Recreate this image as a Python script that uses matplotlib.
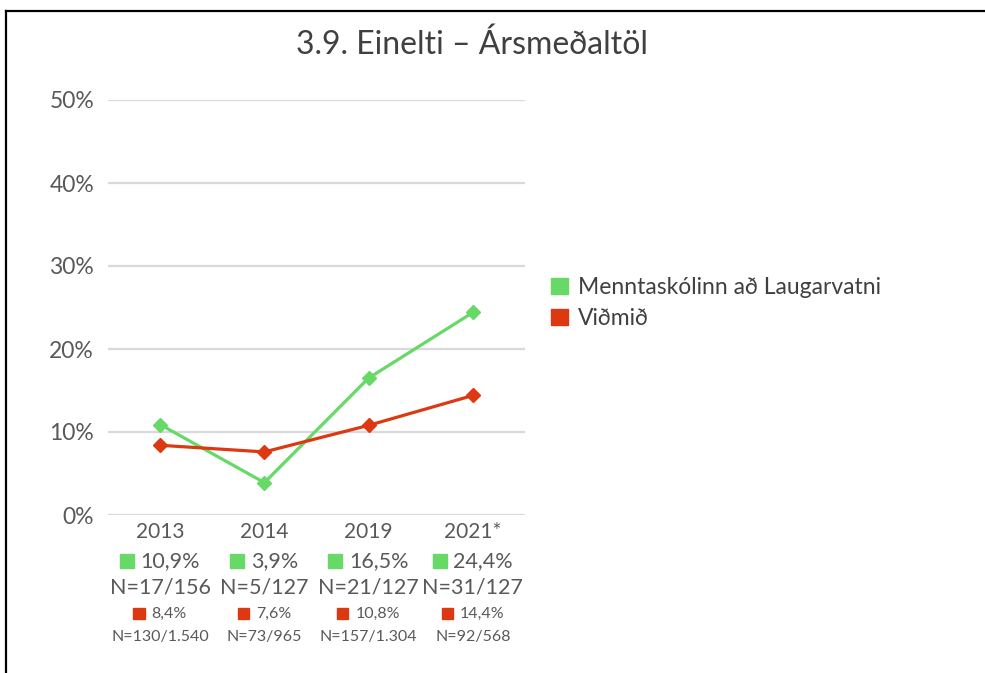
"""Line chart: bullying yearly averages, school vs. benchmark."""

import matplotlib

matplotlib.use("Agg")
import matplotlib.pyplot as plt
from matplotlib.lines import Line2D
from matplotlib.offsetbox import AnnotationBbox, DrawingArea, HPacker, TextArea
from matplotlib.patches import Patch, Rectangle


years = ["2013", "2014", "2019", "2021*"]
school = [10.9, 3.9, 16.5, 24.4]
benchmark = [8.4, 7.6, 10.8, 14.4]
school_n = ["N=17/156", "N=5/127", "N=21/127", "N=31/127"]
benchmark_n = ["N=130/1.540", "N=73/965", "N=157/1.304", "N=92/568"]
school_label = "Menntaskólinn að Laugarvatni"
benchmark_label = "Viðmið"
title = "3.9. Einelti – Ársmeðaltöl"

plt.rcParams["font.family"] = ["Lato", "DejaVu Sans"]
green, red = "#66d966", "#dc3912"
tick_grey, text_dark = "#595959", "#404040"

W, H = 985, 673
fig = plt.figure(figsize=(W / 100, H / 100), dpi=100)
ax = fig.add_axes((108 / W, 1 - 515 / H, (525 - 108) / W, (515 - 100) / H))

x = list(range(len(years)))
ax.plot(x, school, color=green, lw=2.3, marker="D", ms=7.5, zorder=3)
ax.plot(x, benchmark, color=red, lw=2.3, marker="D", ms=7.5, zorder=3)

ax.set_xlim(-0.5, len(years) - 0.5)
ax.set_ylim(0, 50)
ax.set_yticks(range(0, 51, 10))
ax.set_yticklabels([f"{v}%" for v in range(0, 51, 10)], fontsize=16.5, color=tick_grey)
ax.set_xticks([])
ax.tick_params(axis="y", length=0, pad=10)
ax.grid(axis="y", color="#d9d9d9", lw=1.6)
ax.set_axisbelow(True)
for side in ax.spines.values():
    side.set_visible(False)

# category labels with value rows beneath
for i, year in enumerate(years):
    ax.annotate(year, xy=(i, 0), xycoords=("data", "axes fraction"), xytext=(0, -12.5),
                textcoords="offset points", ha="center", va="center", fontsize=15, color=tick_grey)
    for col, val, n, size, sq, dy, dyn in (
        (green, school[i], school_n[i], 15.5, 10, -33, -52.5),
        (red, benchmark[i], benchmark_n[i], 11.5, 8, -71, -88),
    ):
        box = DrawingArea(sq, sq)
        box.add_artist(Rectangle((0, 0), sq, sq, color=col))
        txt = TextArea(f"{val:.1f}%".replace(".", ","),
                       textprops=dict(fontsize=size, color=tick_grey))
        row = HPacker(children=[box, txt], align="center", pad=0, sep=5)
        ax.add_artist(AnnotationBbox(row, (i, 0), xycoords=("data", "axes fraction"),
                                     xybox=(0, dy), boxcoords="offset points",
                                     frameon=False, box_alignment=(0.5, 0.5), pad=0,
                                     annotation_clip=False))
        ax.annotate(n, xy=(i, 0), xycoords=("data", "axes fraction"), xytext=(0, dyn),
                    textcoords="offset points", ha="center", va="center",
                    fontsize=size, color=tick_grey)

handles = [Patch(color=green, label=school_label), Patch(color=red, label=benchmark_label)]
fig.legend(handles=handles, loc="center left", bbox_to_anchor=(551 / W, 1 - 303 / H),
           frameon=False, fontsize=16.5, labelcolor=text_dark, handlelength=0.72,
           handleheight=0.72, handletextpad=0.45, labelspacing=0.45, borderpad=0,
           borderaxespad=0)

fig.text(472 / W, 1 - 45 / H, title, ha="center", va="center", fontsize=23, color=text_dark)

# frame lines of the cropped screenshot
fig.add_artist(Line2D([6 / W, 1], [1 - 11 / H, 1 - 11 / H], color="black", lw=1.6))
fig.add_artist(Line2D([6 / W, 6 / W], [0, 1 - 11 / H], color="black", lw=1.6))

fig.savefig("out.png", dpi=100)
